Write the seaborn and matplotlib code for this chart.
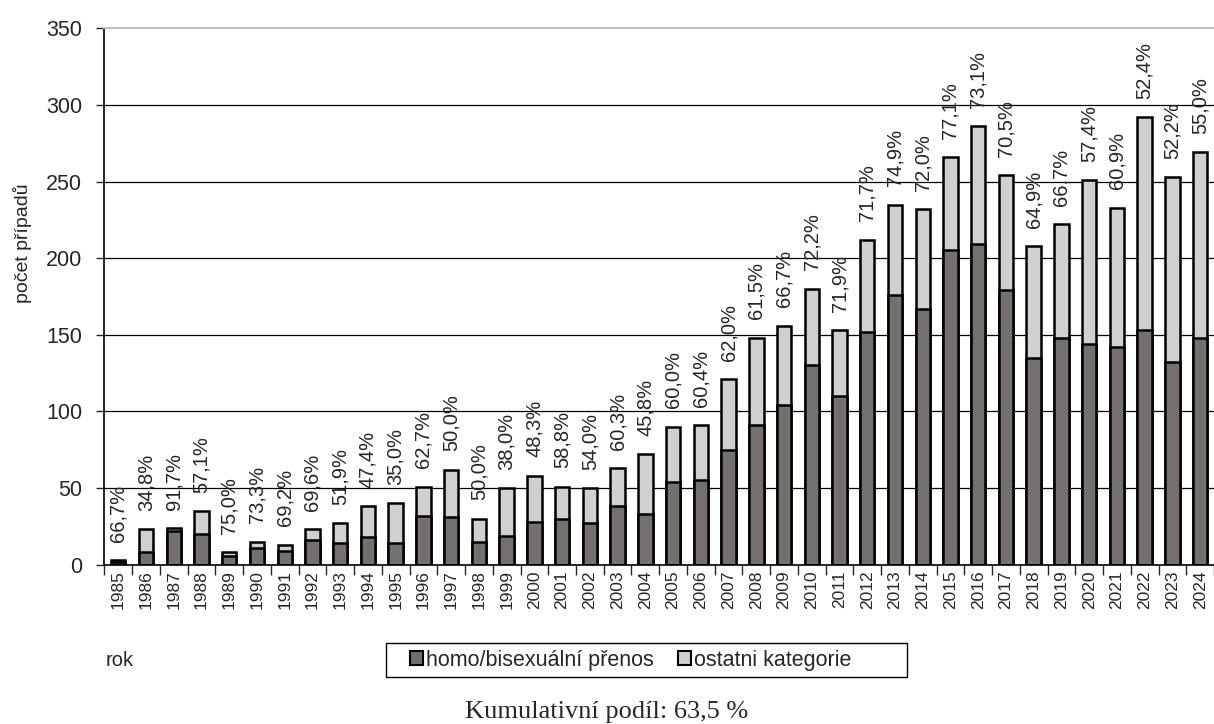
import numpy as np
import pandas as pd
import seaborn as sns
import matplotlib
matplotlib.use('Agg')
import matplotlib.pyplot as plt
from matplotlib.patches import Patch, Rectangle

years = [str(y) for y in range(1985, 2025)]
celkem = [3, 23, 24, 35, 8, 15, 13, 23, 27, 38, 40, 51, 62, 30, 50, 58, 51, 50, 63, 72,
          90, 91, 121, 148, 156, 180, 153, 212, 235, 232, 266, 286, 254, 208, 222, 251, 233, 292, 253, 269]
homo = [2, 8, 22, 20, 6, 11, 9, 16, 14, 18, 14, 32, 31, 15, 19, 28, 30, 27, 38, 33,
        54, 55, 75, 91, 104, 130, 110, 152, 176, 167, 205, 209, 179, 135, 148, 144, 142, 153, 132, 148]
podil = ['66,7%', '34,8%', '91,7%', '57,1%', '75,0%', '73,3%', '69,2%', '69,6%', '51,9%', '47,4%',
         '35,0%', '62,7%', '50,0%', '50,0%', '38,0%', '48,3%', '58,8%', '54,0%', '60,3%', '45,8%',
         '60,0%', '60,4%', '62,0%', '61,5%', '66,7%', '72,2%', '71,9%', '71,7%', '74,9%', '72,0%',
         '77,1%', '73,1%', '70,5%', '64,9%', '66,7%', '57,4%', '60,9%', '52,4%', '52,2%', '55,0%']

df = pd.DataFrame({'rok': years, 'celkem': celkem, 'homo': homo})

sns.set_style('white')
plt.rcParams['font.family'] = ['Liberation Sans Narrow', 'Liberation Sans', 'DejaVu Sans']

fig = plt.figure(figsize=(12.14, 7.24), dpi=100)
ax = fig.add_axes([0.086, 0.22, 0.914, 0.741])

# mrizka za sloupci
for v in range(50, 350, 50):
    ax.axhline(v, color='black', lw=0.9, zorder=0)

sns.barplot(data=df, x='rok', y='celkem', color='#d0d0d0', edgecolor='black',
            linewidth=1.8, width=0.52, saturation=1, ax=ax)
sns.barplot(data=df, x='rok', y='homo', color='#757070', edgecolor='black',
            linewidth=1.8, width=0.52, saturation=1, ax=ax)

for i, (t, p) in enumerate(zip(celkem, podil)):
    ax.text(i, t + 12, p, rotation=90, ha='center', va='bottom', fontsize=14.5)

ax.set_xlim(-0.5, len(years) - 0.5)
ax.set_ylim(0, 350)
ax.set_yticks(range(0, 351, 50))
ax.tick_params(axis='y', labelsize=15.5, length=6, width=1, direction='out', left=True, pad=10)
ax.set_xticks(np.arange(len(years)))
ax.set_xticklabels(years, rotation=90, fontsize=12.5)
ax.tick_params(axis='x', length=0, pad=4)
# carky mezi roky
ax.set_xticks(np.arange(-0.5, len(years), 1), minor=True)
ax.tick_params(axis='x', which='minor', length=7, width=1, bottom=True)

ax.set_xlabel('')
ax.set_ylabel('počet případů', fontsize=14)
ax.yaxis.set_label_coords(-0.065, 0.60)
for s in ['left', 'bottom']:
    ax.spines[s].set_color('black')
    ax.spines[s].set_linewidth(1.2)
ax.spines['top'].set_color('#c0c0c0')
ax.spines['top'].set_linewidth(1.5)
ax.spines['right'].set_visible(False)

fig.text(0.087, 0.088, 'rok', fontsize=14.5, va='center')

# ramecek legendy
fig.add_artist(Rectangle((0.318, 0.065), 0.429, 0.047, transform=fig.transFigure,
                         fill=False, edgecolor='black', lw=1))
handles = [Patch(facecolor='#757070', edgecolor='black', lw=1.5, label='homo/bisexuální přenos'),
           Patch(facecolor='#d0d0d0', edgecolor='black', lw=1.5, label='ostatni kategorie')]
fig.legend(handles=handles, loc='center left', bbox_to_anchor=(0.338, 0.088), ncol=2,
           fontsize=15.5, frameon=False, handlelength=0.6, handleheight=0.6,
           handletextpad=0.15, columnspacing=1.1, borderpad=0, borderaxespad=0)

fig.text(0.5, 0.017, 'Kumulativní podíl: 63,5 %', fontsize=19, ha='center', va='center',
         family=['Liberation Serif', 'DejaVu Serif'])

fig.savefig('out.png', dpi=100)
